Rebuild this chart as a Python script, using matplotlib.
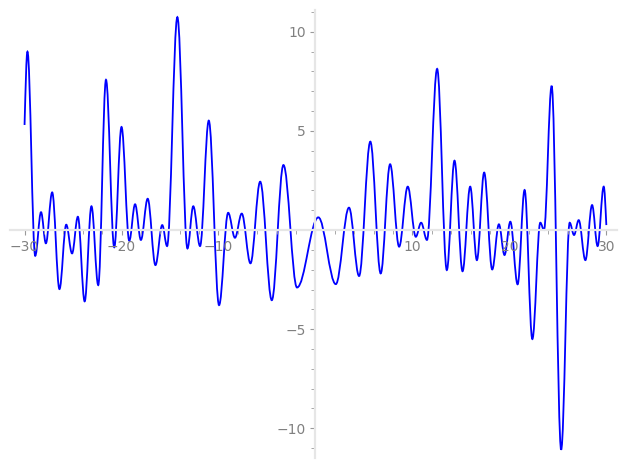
import matplotlib
matplotlib.use("Agg")
import matplotlib.pyplot as plt
from matplotlib.path import Path
from matplotlib.patches import PathPatch
from matplotlib.ticker import MultipleLocator, FuncFormatter

# turning points of the curve (start, extrema, end)
x_pts = [-30.0, -29.7, -28.9, -28.3, -27.8, -27.15, -26.4, -25.7, -25.1, -24.5,
         -23.8, -23.1, -22.4, -21.6, -20.75, -20.0, -19.2, -18.6, -18.0, -17.3,
         -16.5, -15.8, -15.3, -14.24, -13.2, -12.6, -11.9, -11.0, -9.94, -9.0,
         -8.3, -7.6, -6.7, -5.7, -4.5, -3.3, -1.9, 0.3, 2.1, 3.46,
         4.5, 5.66, 6.73, 7.7, 8.63, 9.52, 10.35, 10.9, 11.5, 12.55,
         13.55, 14.34, 15.17, 15.96, 16.65, 17.4, 18.23, 18.92, 19.5, 20.1,
         20.85, 21.57, 22.37, 23.19, 23.57, 24.36, 25.34, 26.22, 26.67, 27.15,
         27.84, 28.53, 29.1, 29.73, 30.0]
y_pts = [5.3, 9.0, -1.3, 0.9, -0.67, 1.9, -2.98, 0.27, -1.18, 0.67,
         -3.6, 1.2, -2.78, 7.58, -0.87, 5.2, -0.54, 1.3, -0.5, 1.58,
         -1.77, 0.25, -0.81, 10.74, -0.93, 1.2, -0.81, 5.52, -3.79, 0.87,
         -0.39, 0.83, -1.68, 2.44, -3.54, 3.28, -2.9, 0.64, -2.73, 1.13,
         -2.32, 4.46, -2.19, 3.32, -0.84, 2.19, -0.34, 0.37, -0.5, 8.13,
         -2.02, 3.5, -2.08, 2.19, -1.52, 2.9, -1.99, 0.29, -1.26, 0.42,
         -2.74, 2.02, -5.5, 0.37, 0.0, 7.27, -11.08, 0.37, -0.25, 0.5,
         -1.52, 1.26, -0.81, 2.19, 0.25]

# smooth half-wave between turning points (bezier with flat tangents);
# the two end points are not extrema, so they get a sloped tangent
k = 0.364
n = len(x_pts)
verts = [(x_pts[0], y_pts[0])]
codes = [Path.MOVETO]
for i in range(1, n):
    x0, y0 = x_pts[i - 1], y_pts[i - 1]
    x1, y1 = x_pts[i], y_pts[i]
    dx, dy = x1 - x0, y1 - y0
    c0 = (x0 + k * dx, y0 + (0.5 * dy if i == 1 else 0))
    c1 = (x1 - k * dx, y1 - (0.5 * dy if i == n - 1 else 0))
    verts += [c0, c1, (x1, y1)]
    codes += [Path.CURVE4] * 3

fig = plt.figure(figsize=(6.27, 4.69), dpi=100)
ax = fig.add_axes([10 / 627, 11 / 469, 607 / 627, 448 / 469])

ax.add_patch(PathPatch(Path(verts, codes), facecolor="none", edgecolor="#0000ff", lw=1.3))

ax.set_xlim(-31.5, 31.1)
ax.set_ylim(-11.5, 11.1)

# axes through the origin
for s in ["top", "right"]:
    ax.spines[s].set_visible(False)
for s in ["left", "bottom"]:
    ax.spines[s].set_position("zero")
    ax.spines[s].set_color("#e6e6e6")
    ax.spines[s].set_linewidth(1.6)

ax.xaxis.set_major_locator(MultipleLocator(10))
ax.xaxis.set_minor_locator(MultipleLocator(2))
ax.yaxis.set_major_locator(MultipleLocator(5))
ax.yaxis.set_minor_locator(MultipleLocator(1))
no_zero = FuncFormatter(lambda v, p: "" if abs(v) < 1e-9 else f"{v:g}".replace("-", "\u2212"))
ax.xaxis.set_major_formatter(no_zero)
ax.yaxis.set_major_formatter(no_zero)
ax.tick_params(which="both", color="#999999", labelcolor="#808080", labelsize=10)
ax.tick_params(which="major", length=3.5, width=0.8)
ax.tick_params(which="minor", length=3, width=0.6)

fig.savefig("out.png", dpi=100)
